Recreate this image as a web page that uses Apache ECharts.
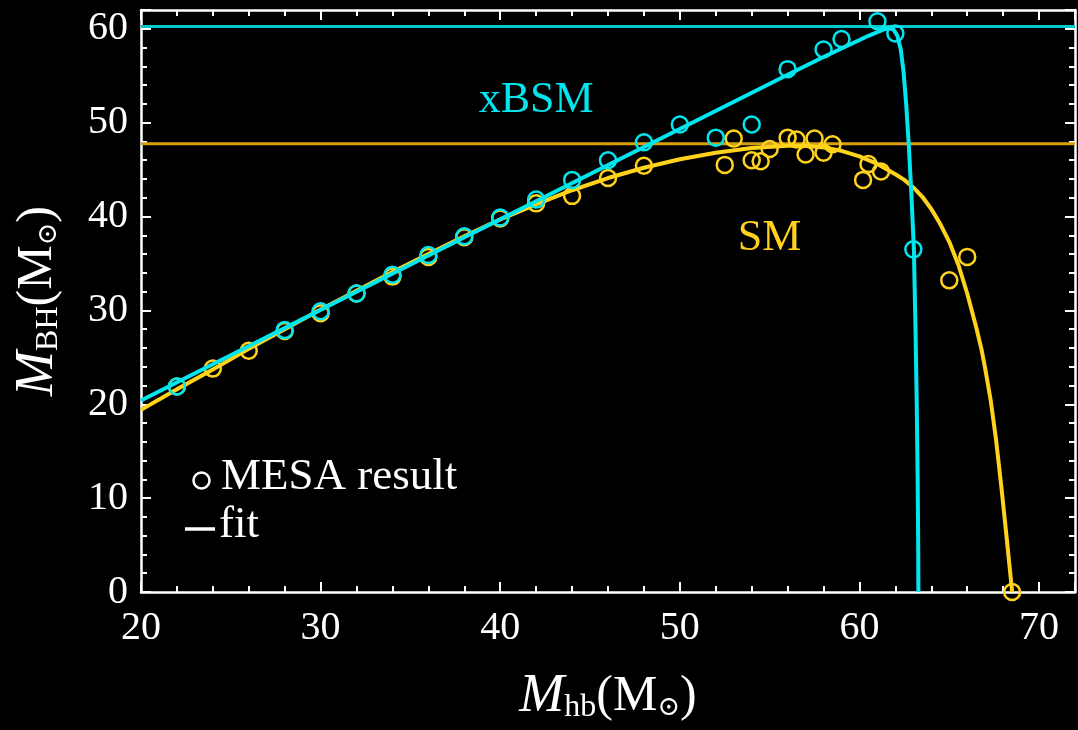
<!DOCTYPE html>
<html>
<head>
<meta charset="utf-8">
<script src="https://cdn.jsdelivr.net/npm/echarts@6/dist/echarts.min.js"></script>
<style>
  html, body { margin: 0; padding: 0; background: #000; }
  #chart { width: 1078px; height: 730px; }
</style>
</head>
<body>
<div id="chart"></div>
<script>
// MESA black-hole masses vs. helium-burning mass, SM and xBSM physics
const smPoints = [
  [22, 21.9], [24, 23.8], [26, 25.7], [28, 27.8], [30, 29.7], [32, 31.8], [34, 33.6],
  [36, 35.7], [38, 37.8], [40, 39.8], [42, 41.4], [44, 42.2], [46, 44.1], [48, 45.4],
  [52.5, 45.5], [53, 48.3], [54, 46.0], [54.5, 45.9], [55, 47.2], [56, 48.4], [56.5, 48.2],
  [57, 46.6], [57.5, 48.3], [58, 46.8], [58.5, 47.7], [60.2, 43.9], [60.5, 45.6],
  [61.2, 44.8], [65, 33.2], [66, 35.7], [68.5, 0]
];
const xbsmPoints = [
  [22, 21.9], [28, 27.9], [30, 29.9], [32, 31.8], [34, 33.8], [36, 35.9], [38, 37.9],
  [40, 39.9], [42, 41.8], [44, 43.9], [46, 46.0], [48, 47.9], [50, 49.8], [52, 48.4],
  [54, 49.8], [56, 55.7], [58, 57.8], [59, 58.9], [61, 60.8], [62, 59.5], [63, 36.5]
];
// fitted curves, sampled densely enough to be drawn as polylines
const smFit = [
  [20, 19.4], [22, 21.6], [24, 23.7], [26, 25.9], [28, 28.0], [30, 30.1], [32, 32.1],
  [34, 34.1], [36, 36.0], [38, 37.9], [40, 39.7], [42, 41.3], [44, 42.8], [46, 44.1],
  [48, 45.2], [50, 46.1], [52, 46.8], [54, 47.3], [56, 47.55], [57, 47.55], [58, 47.35],
  [59, 47.0], [60, 46.4], [61, 45.6], [62, 44.5], [62.5, 43.9], [63, 43.1], [63.5, 42.1],
  [64, 40.8], [64.5, 39.2], [65, 37.3], [65.5, 34.9], [66, 31.8], [66.5, 28.2],
  [66.8, 25.8], [67, 23.8], [67.3, 20.5], [67.6, 16.3], [67.9, 11.2], [68.2, 5.7], [68.5, 0]
];
const xbsmFit = [
  [20, 20.4], [40, 39.7], [56, 55.1], [58, 57.0], [59, 57.9], [60, 58.8], [60.5, 59.25],
  [61, 59.65], [61.4, 59.95], [61.7, 60.05], [61.9, 59.9], [62.1, 59.3], [62.3, 57.8],
  [62.45, 55.5], [62.6, 52.0], [62.75, 47.5], [62.9, 42.0], [63.03, 36.5], [63.12, 28.0],
  [63.19, 20.0], [63.24, 12.0], [63.27, 5.0], [63.28, 0]
];
const smMax = 47.75;
const xbsmMax = 60.25;
const xRange = [20, 72];
const yRange = [0, 62];
const seriesLabels = { xbsm: [42, 52.4, 'xBSM'], sm: [55, 37.7, 'SM'] };

const CYAN = '#00e6ee';
const CYAN_DARK = '#00c8d0';
const YELLOW = '#ffd21c';
const GOLD = '#d6a010';
const WHITE = '#ffffff';
const FONT = "'Liberation Serif', 'DejaVu Serif', serif";

function frameAxis(extra) {
  return Object.assign({
    type: 'value',
    axisLine: { show: true, onZero: false, lineStyle: { color: WHITE, width: 2.5 } },
    axisTick: { show: true, inside: true, length: 10, lineStyle: { color: WHITE, width: 2 } },
    minorTick: { show: true, splitNumber: 5, length: 6, lineStyle: { color: WHITE, width: 2 } },
    splitLine: { show: false },
    minorSplitLine: { show: false }
  }, extra);
}

const tickLabel = {
  color: WHITE, fontFamily: FONT, fontSize: 40,
  formatter: v => (v % 10 === 0 ? String(v) : '')
};

const nameRich = {
  it: { fontFamily: FONT, fontStyle: 'italic', fontSize: 54, color: WHITE },
  n: { fontFamily: FONT, fontSize: 50, color: WHITE },
  sub: { fontFamily: FONT, fontSize: 32, color: WHITE, padding: [22, 0, 0, 0] },
  osub: { fontFamily: "'DejaVu Serif', serif", fontSize: 27, color: WHITE, padding: [22, 0, 0, 0] }
};

const chart = echarts.init(document.getElementById('chart'), null, { renderer: 'canvas' });

const option = {
  backgroundColor: '#000',
  animation: false,
  grid: { left: 141, right: -3, top: 10, bottom: 138, containLabel: false },
  xAxis: [
    frameAxis({
      position: 'bottom', min: xRange[0], max: xRange[1], interval: 10,
      axisLabel: Object.assign({ margin: 16 }, tickLabel),
      name: '{it|M}{sub|hb}{n|(M}{osub|⊙}{n|)}',
      nameLocation: 'middle', nameGap: 78,
      nameTextStyle: { rich: nameRich }
    }),
    frameAxis({
      position: 'top', min: xRange[0], max: xRange[1], interval: 10,
      axisLabel: { show: false }
    })
  ],
  yAxis: [
    frameAxis({
      position: 'left', min: yRange[0], max: yRange[1], interval: 10,
      axisLabel: Object.assign({ margin: 13 }, tickLabel),
      name: '{it|M}{sub|BH}{n|(M}{osub|⊙}{n|)}',
      nameLocation: 'middle', nameGap: 76, nameRotate: 90,
      nameTextStyle: { rich: nameRich }
    }),
    frameAxis({
      position: 'right', min: yRange[0], max: yRange[1], interval: 10,
      axisLabel: { show: false }
    })
  ],
  graphic: [
    { type: 'circle', left: 191, top: 470, shape: { r: 8 },
      style: { fill: 'none', stroke: WHITE, lineWidth: 2.5 } },
    { type: 'text', left: 221, top: 455,
      style: { text: 'MESA result', fill: WHITE, font: '45px ' + FONT } },
    { type: 'line', shape: { x1: 185, y1: 529, x2: 215, y2: 529 },
      style: { stroke: WHITE, lineWidth: 3.5 } },
    { type: 'text', left: 219, top: 503,
      style: { text: 'fit', fill: WHITE, font: '45px ' + FONT } }
  ],
  series: [
    {
      name: 'SM max', type: 'line', data: [[xRange[0], smMax], [xRange[1], smMax]],
      symbol: 'none', lineStyle: { color: GOLD, width: 3 }, z: 1, silent: true
    },
    {
      name: 'xBSM max', type: 'line', data: [[xRange[0], xbsmMax], [xRange[1], xbsmMax]],
      symbol: 'none', lineStyle: { color: CYAN_DARK, width: 3 }, z: 1, silent: true
    },
    {
      name: 'SM fit', type: 'line', data: smFit, smooth: false,
      symbol: 'none', lineStyle: { color: YELLOW, width: 4, join: 'round' }, z: 2
    },
    {
      name: 'SM MESA', type: 'scatter', data: smPoints, symbol: 'circle', symbolSize: 16,
      itemStyle: { color: 'rgba(0,0,0,0)', borderColor: YELLOW, borderWidth: 2.5, opacity: 1 }, z: 3
    },
    {
      name: 'xBSM fit', type: 'line', data: xbsmFit, smooth: false,
      symbol: 'none', lineStyle: { color: CYAN, width: 4, join: 'round' }, z: 4
    },
    {
      name: 'xBSM MESA', type: 'scatter', data: xbsmPoints, symbol: 'circle', symbolSize: 16,
      itemStyle: { color: 'rgba(0,0,0,0)', borderColor: CYAN, borderWidth: 2.5, opacity: 1 }, z: 5
    },
    {
      name: 'labels', type: 'scatter', symbolSize: 0, silent: true, z: 6,
      itemStyle: { opacity: 1 },
      data: [
        { value: seriesLabels.xbsm.slice(0, 2), label: { formatter: seriesLabels.xbsm[2], color: CYAN } },
        { value: seriesLabels.sm.slice(0, 2), label: { formatter: seriesLabels.sm[2], color: YELLOW } }
      ],
      label: { show: true, position: 'inside', fontFamily: FONT, fontSize: 44 }
    }
  ]
};

chart.setOption(option);
</script>
</body>
</html>
